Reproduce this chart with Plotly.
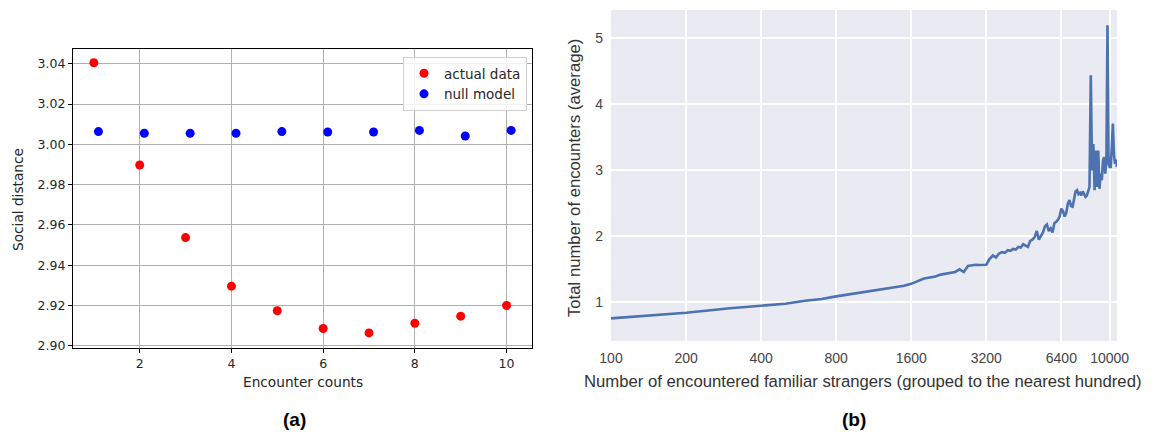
import math
import plotly.graph_objects as go

# ---- Panel (a) data ----
encounter_counts = [1, 2, 3, 4, 5, 6, 7, 8, 9, 10]
actual_data = [3.0405, 2.9897, 2.9537, 2.9296, 2.9174, 2.9086, 2.9064, 2.9112, 2.9147, 2.9200]
null_x = [1.1, 2.1, 3.1, 4.1, 5.1, 6.1, 7.1, 8.1, 9.1, 10.1]
null_model = [3.0063, 3.0055, 3.0055, 3.0055, 3.0063, 3.0061, 3.0061, 3.0069, 3.0041, 3.0069]
a_xticks = [2, 4, 6, 8, 10]
a_yticks = [2.90, 2.92, 2.94, 2.96, 2.98, 3.00, 3.02, 3.04]

# ---- Panel (b) data ----
strangers = list(range(100, 10800, 100))
encounters_avg = [
    0.757, 0.843, 0.91, 0.95, 0.978, 1.025, 1.05, 1.09, 1.12, 1.15,
    1.18, 1.20, 1.22, 1.235, 1.25, 1.28, 1.32, 1.36, 1.375, 1.39,
    1.42, 1.43, 1.45, 1.46, 1.50, 1.46, 1.55, 1.565, 1.57, 1.565,
    1.57, 1.57, 1.66, 1.71, 1.68, 1.74, 1.76, 1.75, 1.79, 1.78,
    1.81, 1.80, 1.84, 1.83, 1.88, 1.86, 1.84, 1.93, 1.95, 1.99,
    2.08, 1.95, 2.00, 2.06, 2.15, 2.18, 2.08, 2.12, 2.06, 2.20,
    2.22, 2.25, 2.30, 2.42, 2.38, 2.30, 2.36, 2.50, 2.55, 2.46,
    2.45, 2.55, 2.68, 2.70, 2.64, 2.66, 2.62, 2.68, 2.64, 2.60,
    2.62, 2.68, 2.75, 4.44, 3.00, 3.40, 2.70, 3.30, 2.75, 3.30,
    2.72, 2.95, 2.85, 3.15, 3.20, 2.95, 3.15, 5.20, 3.10, 3.05,
    3.05, 3.35, 3.71, 3.25, 3.10, 3.16, 3.05,
]
b_xticks = [100, 200, 400, 800, 1600, 3200, 6400, 10000]
b_xticklabels = ["100", "200", "400", "800", "1600", "3200", "6400", "10000"]
b_yticks = [1, 2, 3, 4, 5]

W, H = 1156, 432

def px_x(p):
    return p / W

def px_y(p):
    return 1 - p / H

fig = go.Figure()

fig.add_trace(go.Scatter(
    x=encounter_counts, y=actual_data, mode="markers", name="actual data",
    marker=dict(color="#ff0000", size=9), xaxis="x", yaxis="y"))
fig.add_trace(go.Scatter(
    x=null_x, y=null_model, mode="markers", name="null model",
    marker=dict(color="#0000ff", size=9), xaxis="x", yaxis="y"))
fig.add_trace(go.Scatter(
    x=strangers, y=encounters_avg, mode="lines", showlegend=False,
    line=dict(color="#4C72B0", width=2.6), xaxis="x2", yaxis="y2"))

tickfont_a = dict(family="DejaVu Sans", size=12.5, color="#262626")
tickfont_b = dict(family="Liberation Sans, Arial", size=14, color="#444444")

def ann(text, x, y, size, family, color="#333333", angle=0):
    return dict(text=text, x=px_x(x), y=px_y(y), xref="paper", yref="paper",
                xanchor="center", yanchor="middle", textangle=angle, showarrow=False,
                font=dict(family=family, size=size, color=color))

fig.update_layout(
    template="none",
    width=W, height=H,
    autosize=False,
    margin=dict(l=0, r=0, t=0, b=0, autoexpand=False),
    paper_bgcolor="white",
    plot_bgcolor="white",
    showlegend=True,
    xaxis=dict(
        domain=[px_x(73), px_x(532)], anchor="y", automargin=False,
        range=[0.545, 10.555], tickvals=a_xticks,
        showline=True, mirror=True, linecolor="#000000", linewidth=1.2,
        ticks="outside", ticklen=4, tickcolor="#000000",
        showgrid=True, gridcolor="#b0b0b0", gridwidth=1, zeroline=False,
        tickfont=tickfont_a,
    ),
    yaxis=dict(
        domain=[px_y(348), px_y(49)], anchor="x", automargin=False,
        range=[2.8989, 3.0473], tickvals=a_yticks, tickformat=".2f",
        showline=True, mirror=True, linecolor="#000000", linewidth=1.2,
        ticks="outside", ticklen=4, tickcolor="#000000",
        showgrid=True, gridcolor="#b0b0b0", gridwidth=1, zeroline=False,
        tickfont=tickfont_a,
    ),
    xaxis2=dict(
        domain=[px_x(611), px_x(1117)], anchor="y2", type="log", automargin=False,
        range=[2, math.log10(10700)], tickvals=b_xticks, ticktext=b_xticklabels,
        showline=False, ticks="", showgrid=True, gridcolor="white", gridwidth=1.6,
        zeroline=False, tickfont=tickfont_b, ticklabelstandoff=7,
    ),
    yaxis2=dict(
        domain=[px_y(341), px_y(10)], anchor="x2", automargin=False,
        range=[0.414, 5.43], tickvals=b_yticks,
        showline=False, ticks="", showgrid=True, gridcolor="white", gridwidth=1.6,
        zeroline=False, tickfont=tickfont_b, ticklabelstandoff=7,
    ),
    shapes=[dict(type="rect", xref="paper", yref="paper",
                 x0=px_x(611), x1=px_x(1117), y0=px_y(341), y1=px_y(10),
                 fillcolor="#EAEAF2", line=dict(width=0), layer="below")],
    legend=dict(
        x=px_x(527), y=px_y(57), xanchor="right", yanchor="top",
        bgcolor="rgba(255,255,255,0.85)", bordercolor="#d0d0d0", borderwidth=1,
        font=dict(family="DejaVu Sans", size=13.5, color="#262626"),
        itemwidth=30, tracegroupgap=0,
    ),
    annotations=[
        ann("Social distance", 18, 200, 13.7, "DejaVu Sans", "#262626", -90),
        ann("Encounter counts", 303, 382, 13.7, "DejaVu Sans", "#262626"),
        ann("Total number of encounters (average)", 575, 178, 16.7, "Liberation Sans, Arial", "#333333", -90),
        ann("Number of encountered familiar strangers (grouped to the nearest hundred)",
            863, 381, 16.7, "Liberation Sans, Arial", "#333333"),
        ann("<b>(a)</b>", 294, 419, 19, "Liberation Sans, Arial", "#000000"),
        ann("<b>(b)</b>", 854, 419, 19, "Liberation Sans, Arial", "#000000"),
    ],
)

fig.write_html("out.html", config={"displayModeBar": False},
               post_script="document.body.style.margin='0px';")
